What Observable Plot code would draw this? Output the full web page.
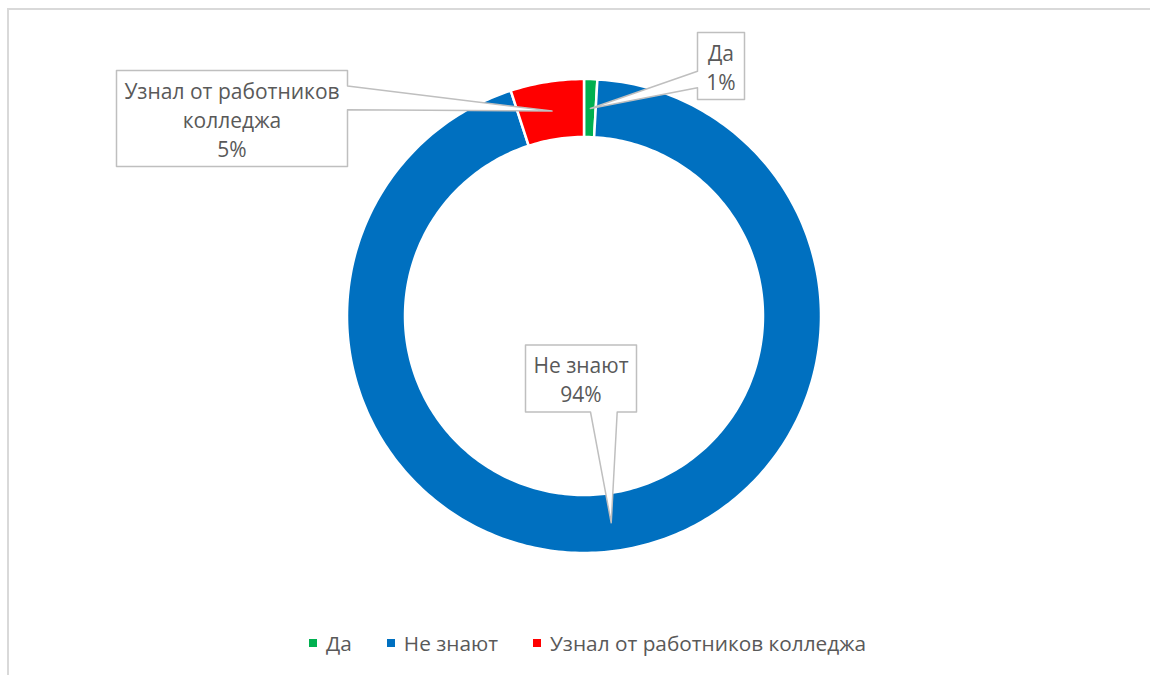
<!DOCTYPE html>
<html>
<head>
<meta charset="utf-8">
<script src="https://cdn.jsdelivr.net/npm/d3@7"></script>
<script src="https://cdn.jsdelivr.net/npm/@observablehq/plot@0.6"></script>
<style>
  html, body { margin: 0; padding: 0; background: #ffffff; }
  body { width: 1150px; height: 675px; overflow: hidden; position: relative; font-family: "Open Sans", sans-serif; }
  #frame { position: absolute; left: 7px; top: 8px; width: 1300px; height: 800px; border: 2px solid #d9d9d9; box-sizing: border-box; }
  #chart { position: absolute; left: 0; top: 0; }
  #legend { position: absolute; left: 309px; top: 631px; display: flex; align-items: center; font-size: 20.8px; line-height: 24px; color: #595959; white-space: nowrap; }
  #legend .item { display: flex; align-items: center; margin-right: 35px; }
  #legend .sw { width: 8px; height: 8px; margin-right: 9px; }
</style>
</head>
<body>
<div id="frame"></div>
<div id="chart"></div>
<div id="legend"></div>
<script>
// ---- data ----
const categories = ["Да", "Не знают", "Узнал от работников колледжа"];
const values = [0.9, 94.1, 5.0];
const colors = ["#00B050", "#0070C0", "#FF0000"];

// ---- layout ----
const W = 1150, H = 620;
const cx = 584, cy = 316;        // ring centre on the page
const R = 237, r = 179;          // outer / inner radius (px)
const textColor = "#595959";
const boxStroke = "#bfbfbf";
// callout boxes (page px): [left, top, right, bottom], side where the pointer leaves, pointer base
const callouts = [
  {category: "Да", box: [697, 32, 744, 99], side: "left", base: [70.7, 87.3]},
  {category: "Не знают", box: [525, 344.5, 636, 411.5], side: "bottom", base: [590, 616.7]},
  {category: "Узнал от работников колледжа", box: [116, 70, 347, 166], side: "right", base: [85.5, 109.3]}
];

// ---- geometry from data ----
const total = d3.sum(values);
const slices = [];
let acc = 0;
categories.forEach((c, i) => {
  const a0 = acc / total * 2 * Math.PI;
  acc += values[i];
  const a1 = acc / total * 2 * Math.PI;
  slices.push({category: c, value: values[i], a0, a1});
});
const ring = [];
slices.forEach(s => {
  const n = Math.max(2, Math.ceil((s.a1 - s.a0) / (2 * Math.PI) * 360));
  for (let k = 0; k <= n; k++) {
    const a = s.a0 + (s.a1 - s.a0) * k / n;
    ring.push({category: s.category,
      x1: R * Math.sin(a), y1: -R * Math.cos(a),
      x2: r * Math.sin(a), y2: -r * Math.cos(a)});
  }
});

function wrap(text, maxChars) {
  const words = text.split(" ");
  const lines = [];
  let cur = "";
  for (const w of words) {
    if (cur && (cur + " " + w).length > maxChars) { lines.push(cur); cur = w; }
    else cur = cur ? cur + " " + w : w;
  }
  if (cur) lines.push(cur);
  return lines.join("\n");
}

const shapePts = [];
const labelRows = [];
callouts.forEach(co => {
  const s = slices.find(d => d.category === co.category);
  const am = (s.a0 + s.a1) / 2, rm = (R + r) / 2;
  const tip = [cx + rm * Math.sin(am), cy - rm * Math.cos(am)];
  const [x1, y1, x2, y2] = co.box;
  const [b0, b1] = co.base;
  let pts = [[x1, y1], [x2, y1]];
  if (co.side === "right") pts.push([x2, b0], tip, [x2, b1]);
  pts.push([x2, y2]);
  if (co.side === "bottom") pts.push([b1, y2], tip, [b0, y2]);
  pts.push([x1, y2]);
  if (co.side === "left") pts.push([x1, b1], tip, [x1, b0]);
  pts.forEach(p => shapePts.push({id: co.category, x: p[0] - cx, y: p[1] - cy}));
  labelRows.push({
    x: (x1 + x2) / 2 - cx, y: (y1 + y2) / 2 - cy,
    text: wrap(co.category, 20) + "\n" + Math.round(s.value / total * 100) + "%"
  });
});

const plot = Plot.plot({
  width: W, height: H,
  margin: 0,
  x: {domain: [-cx, W - cx], range: [0, W], axis: null},
  y: {domain: [-cy, H - cy], range: [0, H], axis: null},
  color: {domain: categories, range: colors},
  style: {fontFamily: "'Open Sans', sans-serif", background: "transparent"},
  marks: [
    Plot.area(ring, {x1: "x1", y1: "y1", x2: "x2", y2: "y2", z: "category", fill: "category", stroke: "white", strokeWidth: 2.5}),
    Plot.line(shapePts, {x: "x", y: "y", z: "id", fill: "white", stroke: boxStroke, strokeWidth: 1.5, curve: "linear-closed"}),
    Plot.text(labelRows, {x: "x", y: "y", text: "text", fill: textColor, fontSize: 21, lineHeight: 1.38, textAnchor: "middle", lineAnchor: "middle"})
  ]
});
document.getElementById("chart").appendChild(plot);

const legend = d3.select("#legend");
categories.forEach((c, i) => {
  const item = legend.append("div").attr("class", "item");
  item.append("div").attr("class", "sw").style("background", colors[i]);
  item.append("span").text(c);
});
</script>
</body>
</html>
